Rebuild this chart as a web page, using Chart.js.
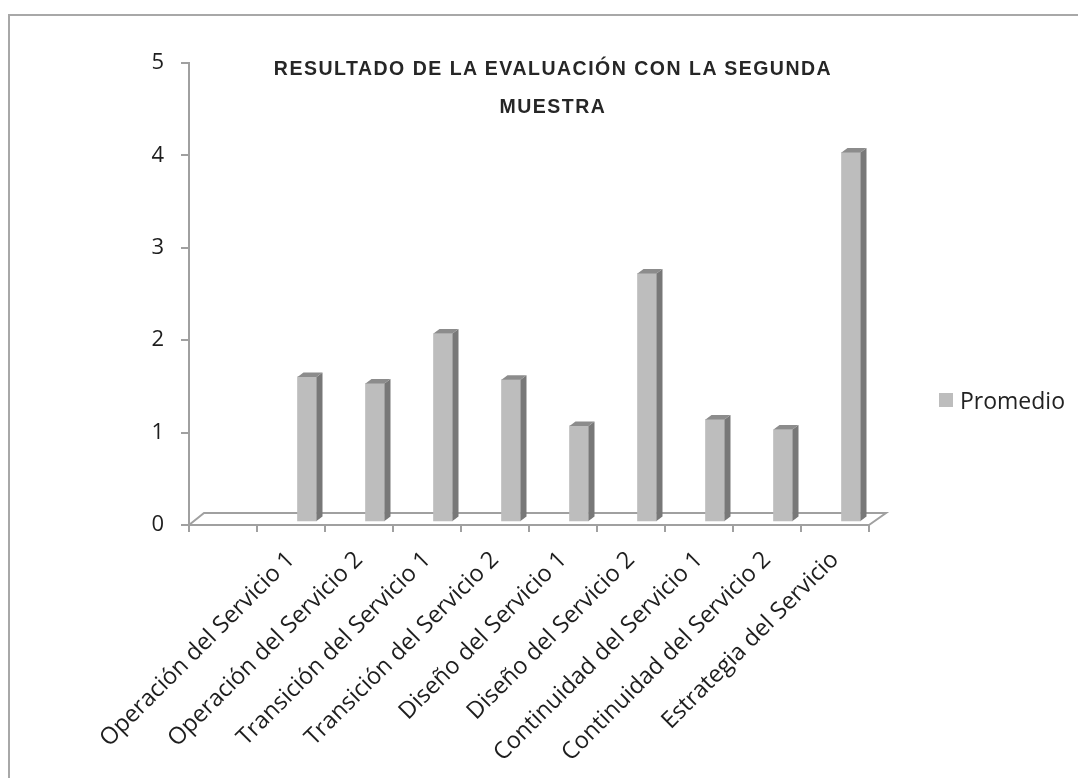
<!DOCTYPE html>
<html lang="es">
<head>
<meta charset="utf-8">
<title>Resultado de la evaluación con la segunda muestra</title>
<script src="https://cdn.jsdelivr.net/npm/chart.js@4.4.1/dist/chart.umd.min.js"></script>
<style>
  html, body { margin: 0; padding: 0; background: #fff; overflow: hidden; }
  .wrap { position: relative; width: 1078px; height: 778px; }
  .marco { position: absolute; left: 8px; top: 14px; width: 1200px; height: 900px; border: 2px solid #a8a8a8; box-sizing: border-box; }
  canvas { position: absolute; left: 0; top: 0; }
  .titulo {
    position: absolute; left: 253px; width: 600px; top: 49px;
    font-family: 'Liberation Sans', Arial, sans-serif; font-weight: bold;
    font-size: 19.5px; line-height: 38px; letter-spacing: 1.5px;
    text-align: center; color: #262626;
  }
  .leyenda { position: absolute; left: 939px; top: 385px; height: 30px; display: flex; align-items: center;
    font-family: 'Open Sans', sans-serif; font-size: 23px; color: #222; }
  .leyenda i { display: inline-block; width: 14px; height: 14px; margin-right: 7px; }
</style>
</head>
<body>
<div class="wrap">
  <div class="marco"></div>
  <canvas id="grafico" width="1078" height="778"></canvas>
  <div class="titulo">RESULTADO DE LA EVALUACIÓN CON LA SEGUNDA<br>MUESTRA</div>
  <div class="leyenda" id="leyenda"></div>
</div>
<script>
// ==========================================
// DATOS
// ==========================================
const categorias = [
  '',
  'Operación del Servicio 1',
  'Operación del Servicio 2',
  'Transición del Servicio 1',
  'Transición del Servicio 2',
  'Diseño del Servicio 1',
  'Diseño del Servicio 2',
  'Continuidad del Servicio 1',
  'Continuidad del Servicio 2',
  'Estrategia del Servicio'
];
const promedio = [null, 1.57, 1.50, 2.04, 1.54, 1.04, 2.69, 1.11, 1.00, 4.00];
const ticksY = [0, 1, 2, 3, 4, 5];

const GRIS_EJE = '#a0a0a0';
const FRENTE = '#bdbdbd';
const LADO = '#787878';
const TAPA = '#8c8c8c';

// ==========================================
// PLUGIN: piso y caras laterales (efecto 3D)
// ==========================================
const efecto3d = {
  id: 'efecto3d',
  beforeDatasetsDraw(chart) {
    const { ctx, chartArea: a } = chart;
    // piso
    ctx.save();
    ctx.strokeStyle = GRIS_EJE;
    ctx.lineWidth = 2;
    ctx.beginPath();
    ctx.moveTo(a.left, a.bottom);
    ctx.lineTo(a.left + 15, a.bottom - 12);
    ctx.lineTo(a.right + 17, a.bottom - 12);
    ctx.lineTo(a.right, a.bottom);
    ctx.stroke();
    ctx.restore();
    // las barras quedan al fondo del piso
    ctx.save();
    ctx.translate(16, -3);
  },
  afterDatasetsDraw(chart) {
    const { ctx } = chart;
    const dx = 6, dy = 4.5;
    chart.getDatasetMeta(0).data.forEach((bar, i) => {
      if (promedio[i] == null) return;
      const { x, y, base, width } = bar.getProps(['x', 'y', 'base', 'width'], true);
      const l = x - width / 2, r = x + width / 2;
      ctx.fillStyle = LADO;
      ctx.beginPath();
      ctx.moveTo(r, y); ctx.lineTo(r + dx, y - dy); ctx.lineTo(r + dx, base - dy); ctx.lineTo(r, base);
      ctx.closePath(); ctx.fill();
      ctx.fillStyle = TAPA;
      ctx.beginPath();
      ctx.moveTo(l, y); ctx.lineTo(l + dx, y - dy); ctx.lineTo(r + dx, y - dy); ctx.lineTo(r, y);
      ctx.closePath(); ctx.fill();
    });
    ctx.restore();
  }
};

// ==========================================
// GRÁFICO
// ==========================================
const fuenteX = { family: "'Open Sans', sans-serif", size: 23.5 };
const fuenteY = { family: "'Open Sans', sans-serif", size: 22 };

const chart = new Chart(document.getElementById('grafico'), {
  type: 'bar',
  data: {
    labels: categorias,
    datasets: [{
      label: 'Promedio',
      data: promedio,
      backgroundColor: FRENTE,
      borderWidth: 0,
      barThickness: 19
    }]
  },
  options: {
    responsive: false,
    animation: false,
    layout: { padding: { left: 0, top: 63, right: 209, bottom: 0 } },
    plugins: {
      legend: { display: false },
      title: { display: false },
      tooltip: { enabled: false }
    },
    scales: {
      x: {
        afterFit(s) { s.height = 253; },
        grid: { offset: true, drawOnChartArea: false, color: GRIS_EJE, lineWidth: 2, tickLength: 7 },
        border: { display: true, color: GRIS_EJE, width: 2 },
        ticks: { autoSkip: false, minRotation: 45, maxRotation: 45, padding: 14, color: '#1e1e1e', font: fuenteX }
      },
      y: {
        min: 0,
        max: 5,
        afterFit(s) { s.width = 189; },
        afterBuildTicks(s) { s.ticks = ticksY.map(v => ({ value: v })); },
        grid: { drawOnChartArea: false, color: GRIS_EJE, lineWidth: 2, tickLength: 8 },
        border: { display: true, color: GRIS_EJE, width: 2 },
        ticks: { padding: 17, color: '#1e1e1e', font: fuenteY }
      }
    }
  },
  plugins: [efecto3d]
});

// leyenda en HTML a partir del dataset
const leyenda = document.getElementById('leyenda');
chart.data.datasets.forEach(ds => {
  const item = document.createElement('span');
  item.innerHTML = '<i style="background:' + ds.backgroundColor + '"></i>' + ds.label;
  item.style.display = 'flex';
  item.style.alignItems = 'center';
  leyenda.appendChild(item);
});
</script>
</body>
</html>
